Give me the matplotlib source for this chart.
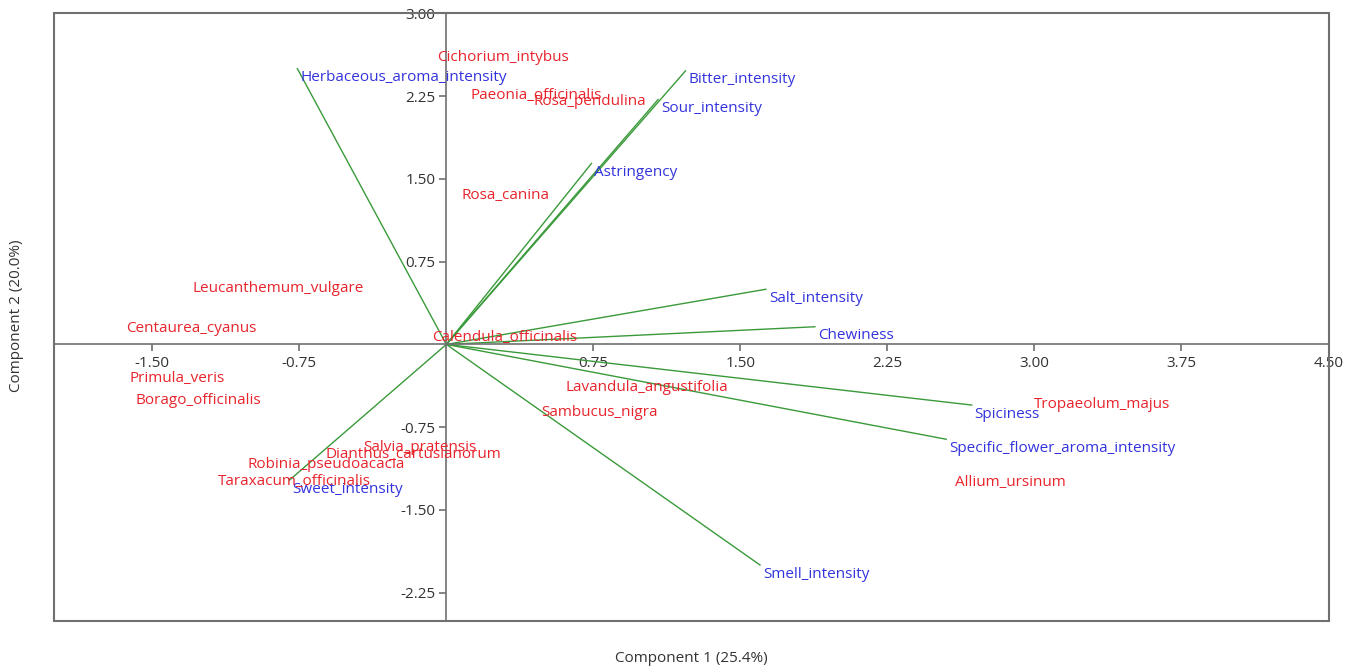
import matplotlib
matplotlib.use("Agg")
import matplotlib.pyplot as plt
from matplotlib.patches import Rectangle

# Variable loadings (vector end points)
var_names = ["Herbaceous_aroma_intensity", "Bitter_intensity", "Sour_intensity",
             "Astringency", "Salt_intensity", "Chewiness", "Spiciness",
             "Specific_flower_aroma_intensity", "Smell_intensity", "Sweet_intensity"]
var_x = [-0.76, 1.22, 1.08, 0.74, 1.63, 1.88, 2.68, 2.55, 1.60, -0.80]
var_y = [2.50, 2.48, 2.22, 1.64, 0.50, 0.16, -0.55, -0.86, -2.00, -1.23]

# Observation scores (labelled points)
obs_names = ["Cichorium_intybus", "Paeonia_officinalis", "Rosa_pendulina", "Rosa_canina",
             "Leucanthemum_vulgare", "Centaurea_cyanus", "Primula_veris",
             "Borago_officinalis", "Salvia_pratensis", "Dianthus_cartusianorum",
             "Robinia_pseudoacacia", "Taraxacum_officinalis", "Calendula_officinalis",
             "Lavandula_angustifolia", "Sambucus_nigra", "Tropaeolum_majus",
             "Allium_ursinum"]
obs_x = [-0.06, 0.11, 0.43, 0.06, -1.31, -1.65, -1.63, -1.60, -0.44, -0.63,
         -1.03, -1.18, -0.09, 0.59, 0.47, 2.98, 2.58]
obs_y = [2.68, 2.34, 2.28, 1.43, 0.59, 0.23, -0.23, -0.43, -0.85, -0.92,
         -1.01, -1.16, 0.14, -0.31, -0.54, -0.46, -1.17]

x_ticks = [-1.50, -0.75, 0.75, 1.50, 2.25, 3.00, 3.75, 4.50]
y_ticks = [-2.25, -1.50, -0.75, 0.75, 1.50, 2.25, 3.00]

FONT = ["Open Sans", "DejaVu Sans"]
plt.rcParams['font.family'] = FONT

RED = "#e8242c"
BLUE = "#3333dd"
GREEN = "#3a9a3a"
AXC = "#707070"
TXT = "#333333"
FS = 11

fig = plt.figure(figsize=(13.57, 6.68), dpi=100)
ax = fig.add_axes([0.040, 0.0708, 0.939, 0.9090])
ax.set_xlim(-2.0, 4.5)
ax.set_ylim(-2.505, 3.0)

for s in ["top", "right"]:
    ax.spines[s].set_visible(False)
ax.spines["left"].set_position(("data", 0))
ax.spines["bottom"].set_position(("data", 0))
for s in ["left", "bottom"]:
    ax.spines[s].set_color(AXC)
    ax.spines[s].set_linewidth(1.2)
ax.add_patch(Rectangle((0, 0), 1, 1, transform=ax.transAxes, fill=False,
                       edgecolor=AXC, linewidth=1.5, clip_on=False, zorder=5))

ax.set_xticks(x_ticks)
ax.set_xticklabels([f"{v:.2f}" for v in x_ticks])
ax.set_yticks(y_ticks)
ax.set_yticklabels([f"{v:.2f}" for v in y_ticks])
ax.tick_params(axis="both", direction="out", length=5, width=1.2, color=AXC,
               labelsize=FS, labelcolor=TXT, pad=3)

for n, x, y in zip(var_names, var_x, var_y):
    ax.plot([0, x], [0, y], color=GREEN, linewidth=1.0, zorder=2)
    ax.annotate(n, (x, y), xytext=(3, -9), textcoords="offset pixels",
                ha="left", va="center", color=BLUE, fontsize=FS, zorder=3)

for n, x, y in zip(obs_names, obs_x, obs_y):
    ax.annotate(n, (x, y), xytext=(3, -9), textcoords="offset pixels",
                ha="left", va="center", color=RED, fontsize=FS, zorder=3)

fig.text(0.5096, 1 - 658 / 668, "Component 1 (25.4%)", ha="center", va="center",
         fontsize=FS, color=TXT)
fig.text(17 / 1357, 1 - 316 / 668, "Component 2 (20.0%)", ha="center", va="center",
         rotation=90, fontsize=FS, color=TXT)

fig.savefig("out.png", dpi=100)
